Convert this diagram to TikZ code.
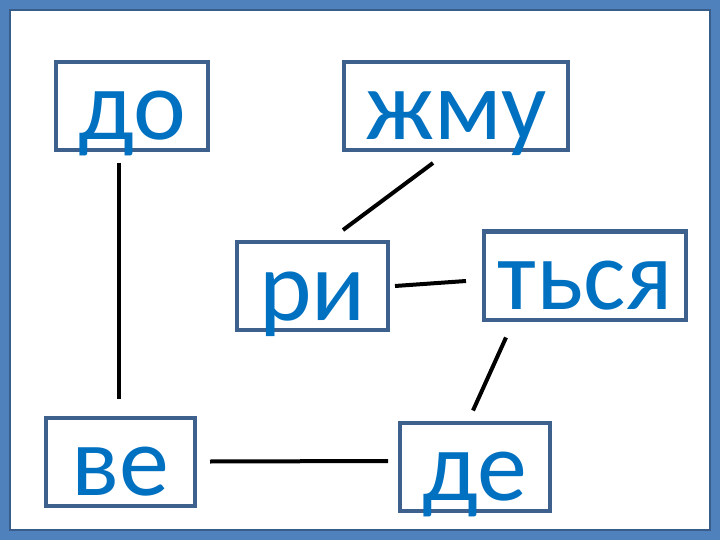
\documentclass[tikz,border=0pt]{standalone}
\usepackage{fontspec}
\setmainfont{Carlito}
\usetikzlibrary{positioning}
\definecolor{frameblue}{RGB}{79,129,189}
\definecolor{frameedge}{RGB}{56,93,138}
\definecolor{boxedge}{RGB}{62,96,140}
\definecolor{syltext}{RGB}{0,112,192}

\begin{document}
\begin{tikzpicture}[x=1pt,y=-1pt,
        syl/.style={rectangle,draw=boxedge,line width=4pt,fill=white,text=syltext,
            font=\fontsize{100}{100}\selectfont,inner xsep=0pt,inner ysep=0pt,
            minimum height=88pt,text height=78pt,text depth=10pt},
        link/.style={line width=4pt}]
            \fill [frameblue] (0,0) rectangle (720,540);
            \fill [white] (10,10) rectangle (710,530);
            \draw [frameedge,line width=1.5pt] (10,10) rectangle (710,530);
            \useasboundingbox (0,0) rectangle (720,540);

            \node [syl,minimum width=152pt] (do) at (132,106) {до};
            \node [syl,minimum width=224pt] (zhmu) at (456,106) {жму};
            \node [syl,minimum width=151pt] (ri) at (312.5,286) {ри};
            \node [syl,minimum width=202pt] (tsya) at (585,275.5) {ться};
            \node [syl,minimum width=149pt] (ve) at (120.5,461.5) {ве};
            \node [syl,minimum width=150pt] (de) at (475,466.5) {де};

            \draw [link] ([xshift=-13pt,yshift=-11pt]do.south) -- ([xshift=-1.5pt,yshift=17pt]ve.north);
            \draw [link] ([xshift=-23pt,yshift=-11pt]zhmu.south) -- ([xshift=30.5pt,yshift=10pt]ri.north);
            \draw [link] ([xshift=5pt]ri.east) -- ([xshift=-16pt,yshift=-5.5pt]tsya.west);
            \draw [link] ([xshift=24pt,yshift=-16pt]tsya.south west) -- ([xshift=-2pt,yshift=10pt]de.north);
            \draw [link] ([xshift=13pt]ve.east) -- ([xshift=-10pt,yshift=5.5pt]de.west);
        \end{tikzpicture}
\end{document}
